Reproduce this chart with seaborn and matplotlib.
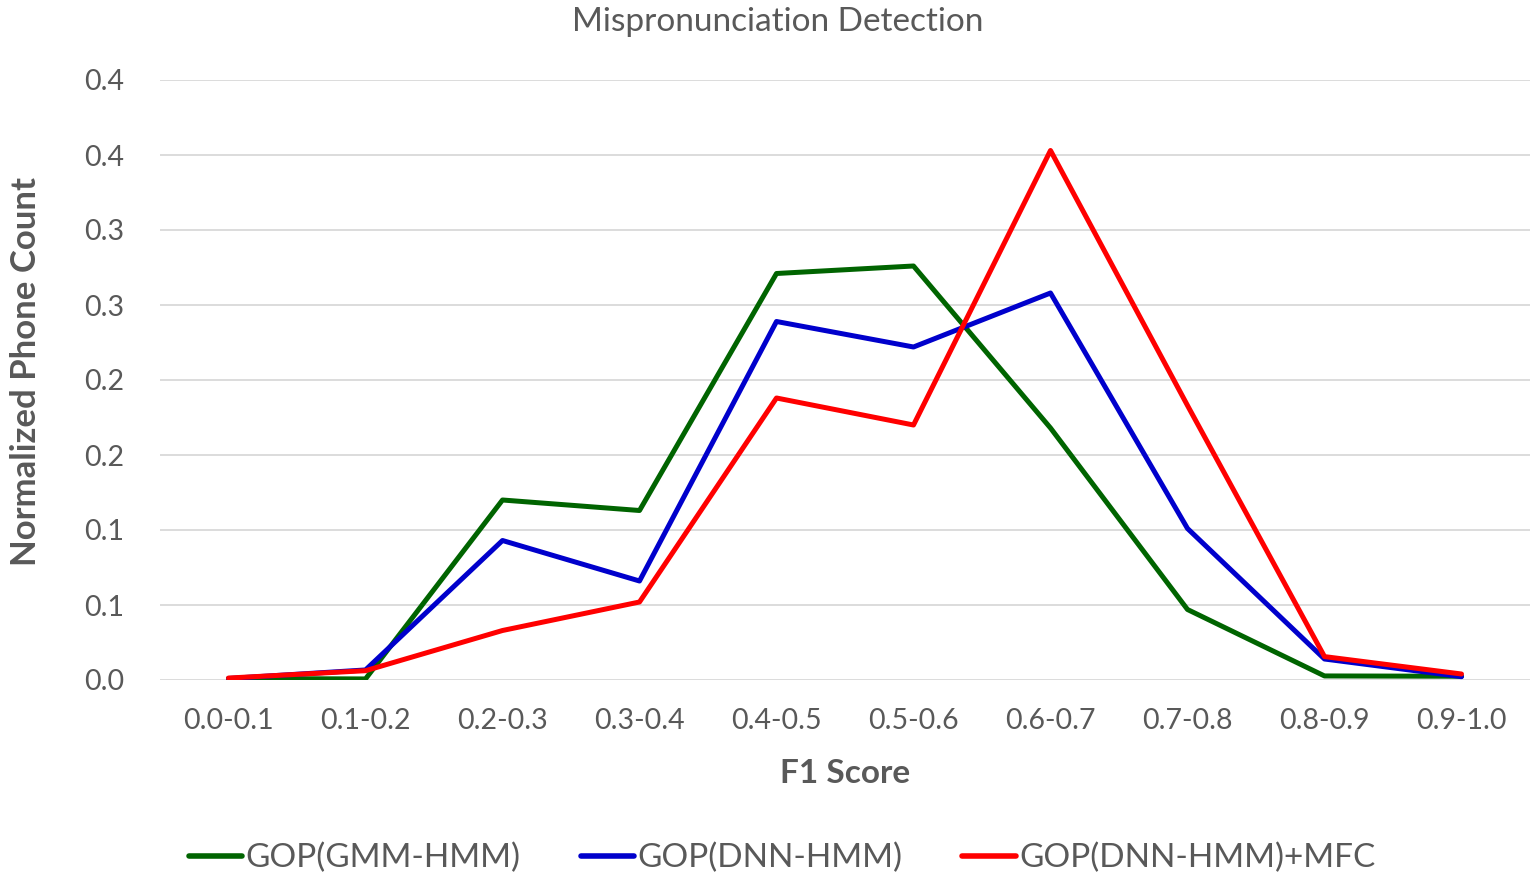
import matplotlib
matplotlib.use("Agg")
import matplotlib.pyplot as plt
import seaborn as sns
import pandas as pd

# F1-score bins on the x axis
bins = ["0.0-0.1", "0.1-0.2", "0.2-0.3", "0.3-0.4", "0.4-0.5",
        "0.5-0.6", "0.6-0.7", "0.7-0.8", "0.8-0.9", "0.9-1.0"]

# Normalized phone counts per bin for each system
gop_gmm_hmm = [0.001, 0.0007, 0.120, 0.113, 0.271, 0.276, 0.168, 0.047, 0.0027, 0.0025]
gop_dnn_hmm = [0.001, 0.0067, 0.093, 0.066, 0.239, 0.222, 0.258, 0.101, 0.014, 0.0022]
gop_dnn_hmm_mfc = [0.0013, 0.0062, 0.033, 0.052, 0.188, 0.170, 0.353, 0.183, 0.0156, 0.004]

series_names = ["GOP(GMM-HMM)", "GOP(DNN-HMM)", "GOP(DNN-HMM)+MFC"]
series_colors = ["#006400", "#0000CC", "#FF0000"]

# Y tick positions and their one-decimal labels
y_ticks = [0.0, 0.05, 0.1, 0.15, 0.2, 0.25, 0.3, 0.35, 0.4]
y_tick_labels = ["0.0", "0.1", "0.1", "0.2", "0.2", "0.3", "0.3", "0.4", "0.4"]

frames = []
for name, vals in zip(series_names, [gop_gmm_hmm, gop_dnn_hmm, gop_dnn_hmm_mfc]):
    frames.append(pd.DataFrame({"F1 Score": bins, "count": vals, "system": name}))
df = pd.concat(frames, ignore_index=True)

sns.set_theme(style="white")
plt.rcParams["font.family"] = ["Lato", "DejaVu Sans"]

text_gray = "#595959"

fig = plt.figure(figsize=(15.35, 8.75), dpi=100)
ax = fig.add_axes([160 / 1535, 1 - 680 / 875, 1370 / 1535, 600 / 875])

sns.lineplot(data=df, x="F1 Score", y="count", hue="system",
             hue_order=series_names, palette=series_colors,
             sort=False, linewidth=3.6, ax=ax, legend=False)

ax.set_xlim(-0.5, len(bins) - 0.5)
ax.set_ylim(0, 0.4)
ax.set_yticks(y_ticks)
ax.set_yticklabels(y_tick_labels)
ax.yaxis.grid(True, color="#D9D9D9", linewidth=1.3)
ax.set_axisbelow(True)
for s in ax.spines.values():
    s.set_visible(False)

ax.tick_params(axis="y", length=0, pad=26, labelsize=20.5, labelcolor=text_gray)
ax.tick_params(axis="x", length=0, pad=20, labelsize=20.5, labelcolor=text_gray)

ax.set_xlabel("F1 Score", fontsize=24, fontweight="bold", color=text_gray, labelpad=18)
ax.set_ylabel("Normalized Phone Count", fontsize=25, fontweight="bold", color=text_gray)
ax.yaxis.set_label_coords(-0.086, 0.514)

fig.text(778 / 1535, 1 - 22 / 875, "Mispronunciation Detection", ha="center",
         va="center", fontsize=24, color=text_gray)

handles = [plt.Line2D([], [], color=c, linewidth=4) for c in series_colors]
fig.legend(handles, series_names, loc="center", bbox_to_anchor=(782 / 1535, 1 - 858 / 875),
           ncol=3, frameon=False, fontsize=24, handlelength=1.6,
           handletextpad=0.1, columnspacing=1.8, labelcolor=text_gray)

fig.savefig("out.png", dpi=100, facecolor="white")
